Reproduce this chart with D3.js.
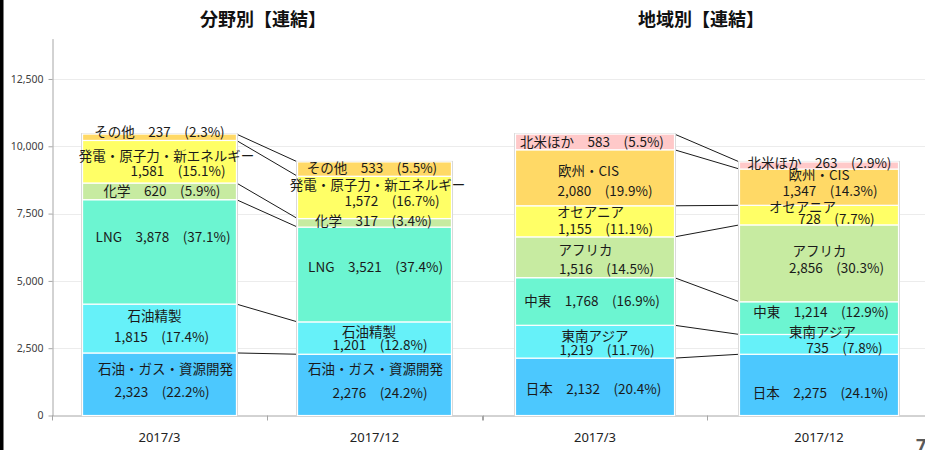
<!DOCTYPE html>
<html><head><meta charset="utf-8">
<script src="https://cdn.jsdelivr.net/npm/d3@7"></script>
<style>body{margin:0;background:#fff}svg{display:block}</style>
</head><body><svg id="c" width="925" height="450"></svg>
<script>
// ---------------- data ----------------
const periods = ["2017/3", "2017/12"];
const titles = ["分野別【連結】", "地域別【連結】"];

const sectorNames = ["石油・ガス・資源開発", "石油精製", "LNG", "化学", "発電・原子力・新エネルギー", "その他"];
const sector2017_3 = [2323, 1815, 3878, 620, 1581, 237];
const sector2017_12 = [2276, 1201, 3521, 317, 1572, 533];
const sectorPct2017_3 = ["22.2", "17.4", "37.1", "5.9", "15.1", "2.3"];
const sectorPct2017_12 = ["24.2", "12.8", "37.4", "3.4", "16.7", "5.5"];

const regionNames = ["日本", "東南アジア", "中東", "アフリカ", "オセアニア", "欧州・CIS", "北米ほか"];
const region2017_3 = [2132, 1219, 1768, 1516, 1155, 2080, 583];
const region2017_12 = [2275, 735, 1214, 2856, 728, 1347, 263];
const regionPct2017_3 = ["20.4", "11.7", "16.9", "14.5", "11.1", "19.9", "5.5"];
const regionPct2017_12 = ["24.1", "7.8", "12.9", "30.3", "7.7", "14.3", "2.9"];

const yTicks = [0, 2500, 5000, 7500, 10000, 12500];

// ---------------- styles / layout ----------------
const sectorColors = ["#4cc8fe", "#66f1f9", "#6cf5d1", "#c7eba1", "#ffff66", "#ffd966"];
const regionColors = ["#4cc8fe", "#66f1f9", "#6cf5d1", "#c7eba1", "#ffff66", "#ffd966", "#ffc9c9"];
const sectorTwoLine = [true, true, false, false, true, false];
const regionTwoLine = [false, true, false, true, true, true, false];
// label nudges per bar per segment: [dy1, dy2, dx1, dx2] relative to segment middle / bar centre
const sectorNudge = [
  [[-15, 8, 6, 2.5], [-12.6, 8.4, -5, 2], [-15, 0, 3.5, 0], [0, 0, 2.5, 0], [-6, 9, 7, 18.5], [-5, 0, 0, 0]],
  [[-16, 8, 1, 5.5], [-6, 7, -5.5, 5.5], [-7.5, 0, 1, 0], [-2, 0, -1, 0], [-12.5, 3.5, 3, 17.5], [-1, 0, -2.5, 0]]
];
const regionNudge = [
  [[2, 0, -1.5, 0], [-5.7, 8.3, 0, 12], [0, 0, -3, 0], [-7.3, 11.7, -9.5, 11.5], [-9.4, 7.6, -4.5, 10.5], [-6.8, 13.2, -6.5, 10], [0, 0, -3, 0]],
  [[8, 0, 1.5, 0], [-12.4, 3.6, 3.5, 25.5], [-6, 0, 2, 0], [-12.4, 4.6, 0.5, 17.5], [-8, 4, -16.5, 17.5], [-12, 4, 0, 11], [-2.5, 0, 0.5, 0]]
];

const svg = d3.select("#c");
const jp = "'Noto Sans CJK JP', 'Noto Sans', sans-serif";
const fmt = d3.format(",");

svg.append("rect").attr("x", 0).attr("y", 0).attr("width", 925).attr("height", 450).attr("fill", "#fff");

const y = d3.scaleLinear().domain([0, 14000]).range([415.5, 38.6]);

// gridlines
svg.append("g").selectAll("line").data(yTicks.filter(d => d > 0)).join("line")
  .attr("x1", 52).attr("x2", 925)
  .attr("y1", d => Math.round(y(d)) + 0.5).attr("y2", d => Math.round(y(d)) + 0.5)
  .attr("stroke", "#ececec").attr("stroke-width", 1);

// y axis
const ya = svg.append("g").attr("transform", "translate(52.5,0)")
  .call(d3.axisLeft(y).tickValues(yTicks).tickSize(4).tickSizeOuter(0).tickPadding(5).tickFormat(fmt));
ya.select(".domain").attr("stroke", "#a6a6a6");
ya.selectAll(".tick line").attr("stroke", "#a6a6a6");
ya.selectAll("text").attr("font-family", "'Noto Sans', sans-serif").attr("font-size", 10.5).attr("fill", "#404040");

function drawChart(cfg) {
  const xb = d3.scaleBand().domain(periods).range(cfg.range).paddingInner(cfg.pad).paddingOuter(cfg.pad / 2);
  const bw = xb.bandwidth();
  const g = svg.append("g");

  // title
  g.append("text").attr("x", cfg.titleX).attr("y", 26).attr("text-anchor", "middle")
    .attr("font-family", jp).attr("font-weight", "bold").attr("font-size", 18).attr("fill", "#111")
    .text(cfg.title);

  // baseline + ticks
  g.append("line").attr("x1", cfg.range[0]).attr("x2", Math.min(cfg.range[1], 925))
    .attr("y1", y(0) + 0.5).attr("y2", y(0) + 0.5).attr("stroke", "#a6a6a6");
  const bounds = [cfg.range[0], cfg.range[0] + xb.step(), cfg.range[1]];
  g.selectAll("line.tk").data(bounds).join("line").attr("class", "tk")
    .attr("x1", d => Math.round(d) + 0.5).attr("x2", d => Math.round(d) + 0.5)
    .attr("y1", y(0)).attr("y2", y(0) + 5).attr("stroke", "#a6a6a6");

  // x labels
  const xa = g.append("g").attr("transform", `translate(0,${y(0)})`)
    .call(d3.axisBottom(xb).tickSize(0).tickPadding(17));
  xa.select(".domain").remove();
  xa.selectAll("text").attr("font-family", "'Noto Sans', sans-serif").attr("font-size", 13).attr("fill", "#222");

  const stacks = cfg.values.map(vals => {
    let c = 0;
    return vals.map((v, i) => { const s = { i, v, y0: c, y1: c + v }; c += v; return s; });
  });

  // connector lines
  const x1 = xb(periods[0]) + bw, x2 = xb(periods[1]);
  const tops = stacks[0].map((s, i) => ({ a: s.y1, b: stacks[1][i].y1 }));
  g.selectAll("line.conn").data(tops).join("line").attr("class", "conn")
    .attr("x1", x1).attr("x2", x2).attr("y1", d => y(d.a)).attr("y2", d => y(d.b))
    .attr("stroke", "#1a1a1a").attr("stroke-width", 1);

  stacks.forEach((stack, bi) => {
    const bx = xb(periods[bi]);
    const total = d3.sum(cfg.values[bi]);
    // shadow outline
    g.append("rect").attr("x", bx - 1.5).attr("y", y(total) - 1).attr("width", bw + 3)
      .attr("height", y(0) - y(total) + 1).attr("fill", "#d6d6d6");
    g.selectAll(null).data(stack).join("rect")
      .attr("x", bx).attr("width", bw)
      .attr("y", d => y(d.y1)).attr("height", d => y(d.y0) - y(d.y1))
      .attr("fill", d => cfg.colors[d.i]).attr("stroke", "#fff").attr("stroke-width", 1.2);

    // labels
    const cx = bx + bw / 2;
    stack.forEach(s => {
      const mid = (y(s.y0) + y(s.y1)) / 2;
      const n = cfg.nudge[bi][s.i];
      const name = cfg.names[s.i], val = fmt(s.v), pct = cfg.pcts[bi][s.i];
      const lines = cfg.twoLine[s.i]
        ? [[name, n[0], n[2]], [`${val}　(${pct}%)`, n[1], n[3]]]
        : [[`${name}　${val}　(${pct}%)`, n[0], n[2]]];
      lines.forEach(([t, dy, dx]) => {
        g.append("text").attr("x", cx + dx).attr("y", mid + dy).attr("dy", "0.36em")
          .attr("text-anchor", "middle").attr("font-family", jp).attr("font-size", 13.5)
          .attr("fill", "#1a1a1a").text(t);
      });
    });
  });
}

drawChart({
  title: titles[0], titleX: 263, range: [52, 482], pad: 0.284,
  names: sectorNames, values: [sector2017_3, sector2017_12], pcts: [sectorPct2017_3, sectorPct2017_12],
  colors: sectorColors, twoLine: sectorTwoLine, nudge: sectorNudge
});
drawChart({
  title: titles[1], titleX: 701, range: [483, 931], pad: 0.29,
  names: regionNames, values: [region2017_3, region2017_12], pcts: [regionPct2017_3, regionPct2017_12],
  colors: regionColors, twoLine: regionTwoLine, nudge: regionNudge
});

// page edge and page number
svg.append("rect").attr("x", 0).attr("y", 0).attr("width", 3.5).attr("height", 450).attr("fill", "#000");
svg.append("text").attr("x", 916).attr("y", 452).attr("font-family", "'Noto Sans', sans-serif")
  .attr("font-weight", "bold").attr("font-size", 18).attr("fill", "#595959").text("7");
</script>
</body></html>
